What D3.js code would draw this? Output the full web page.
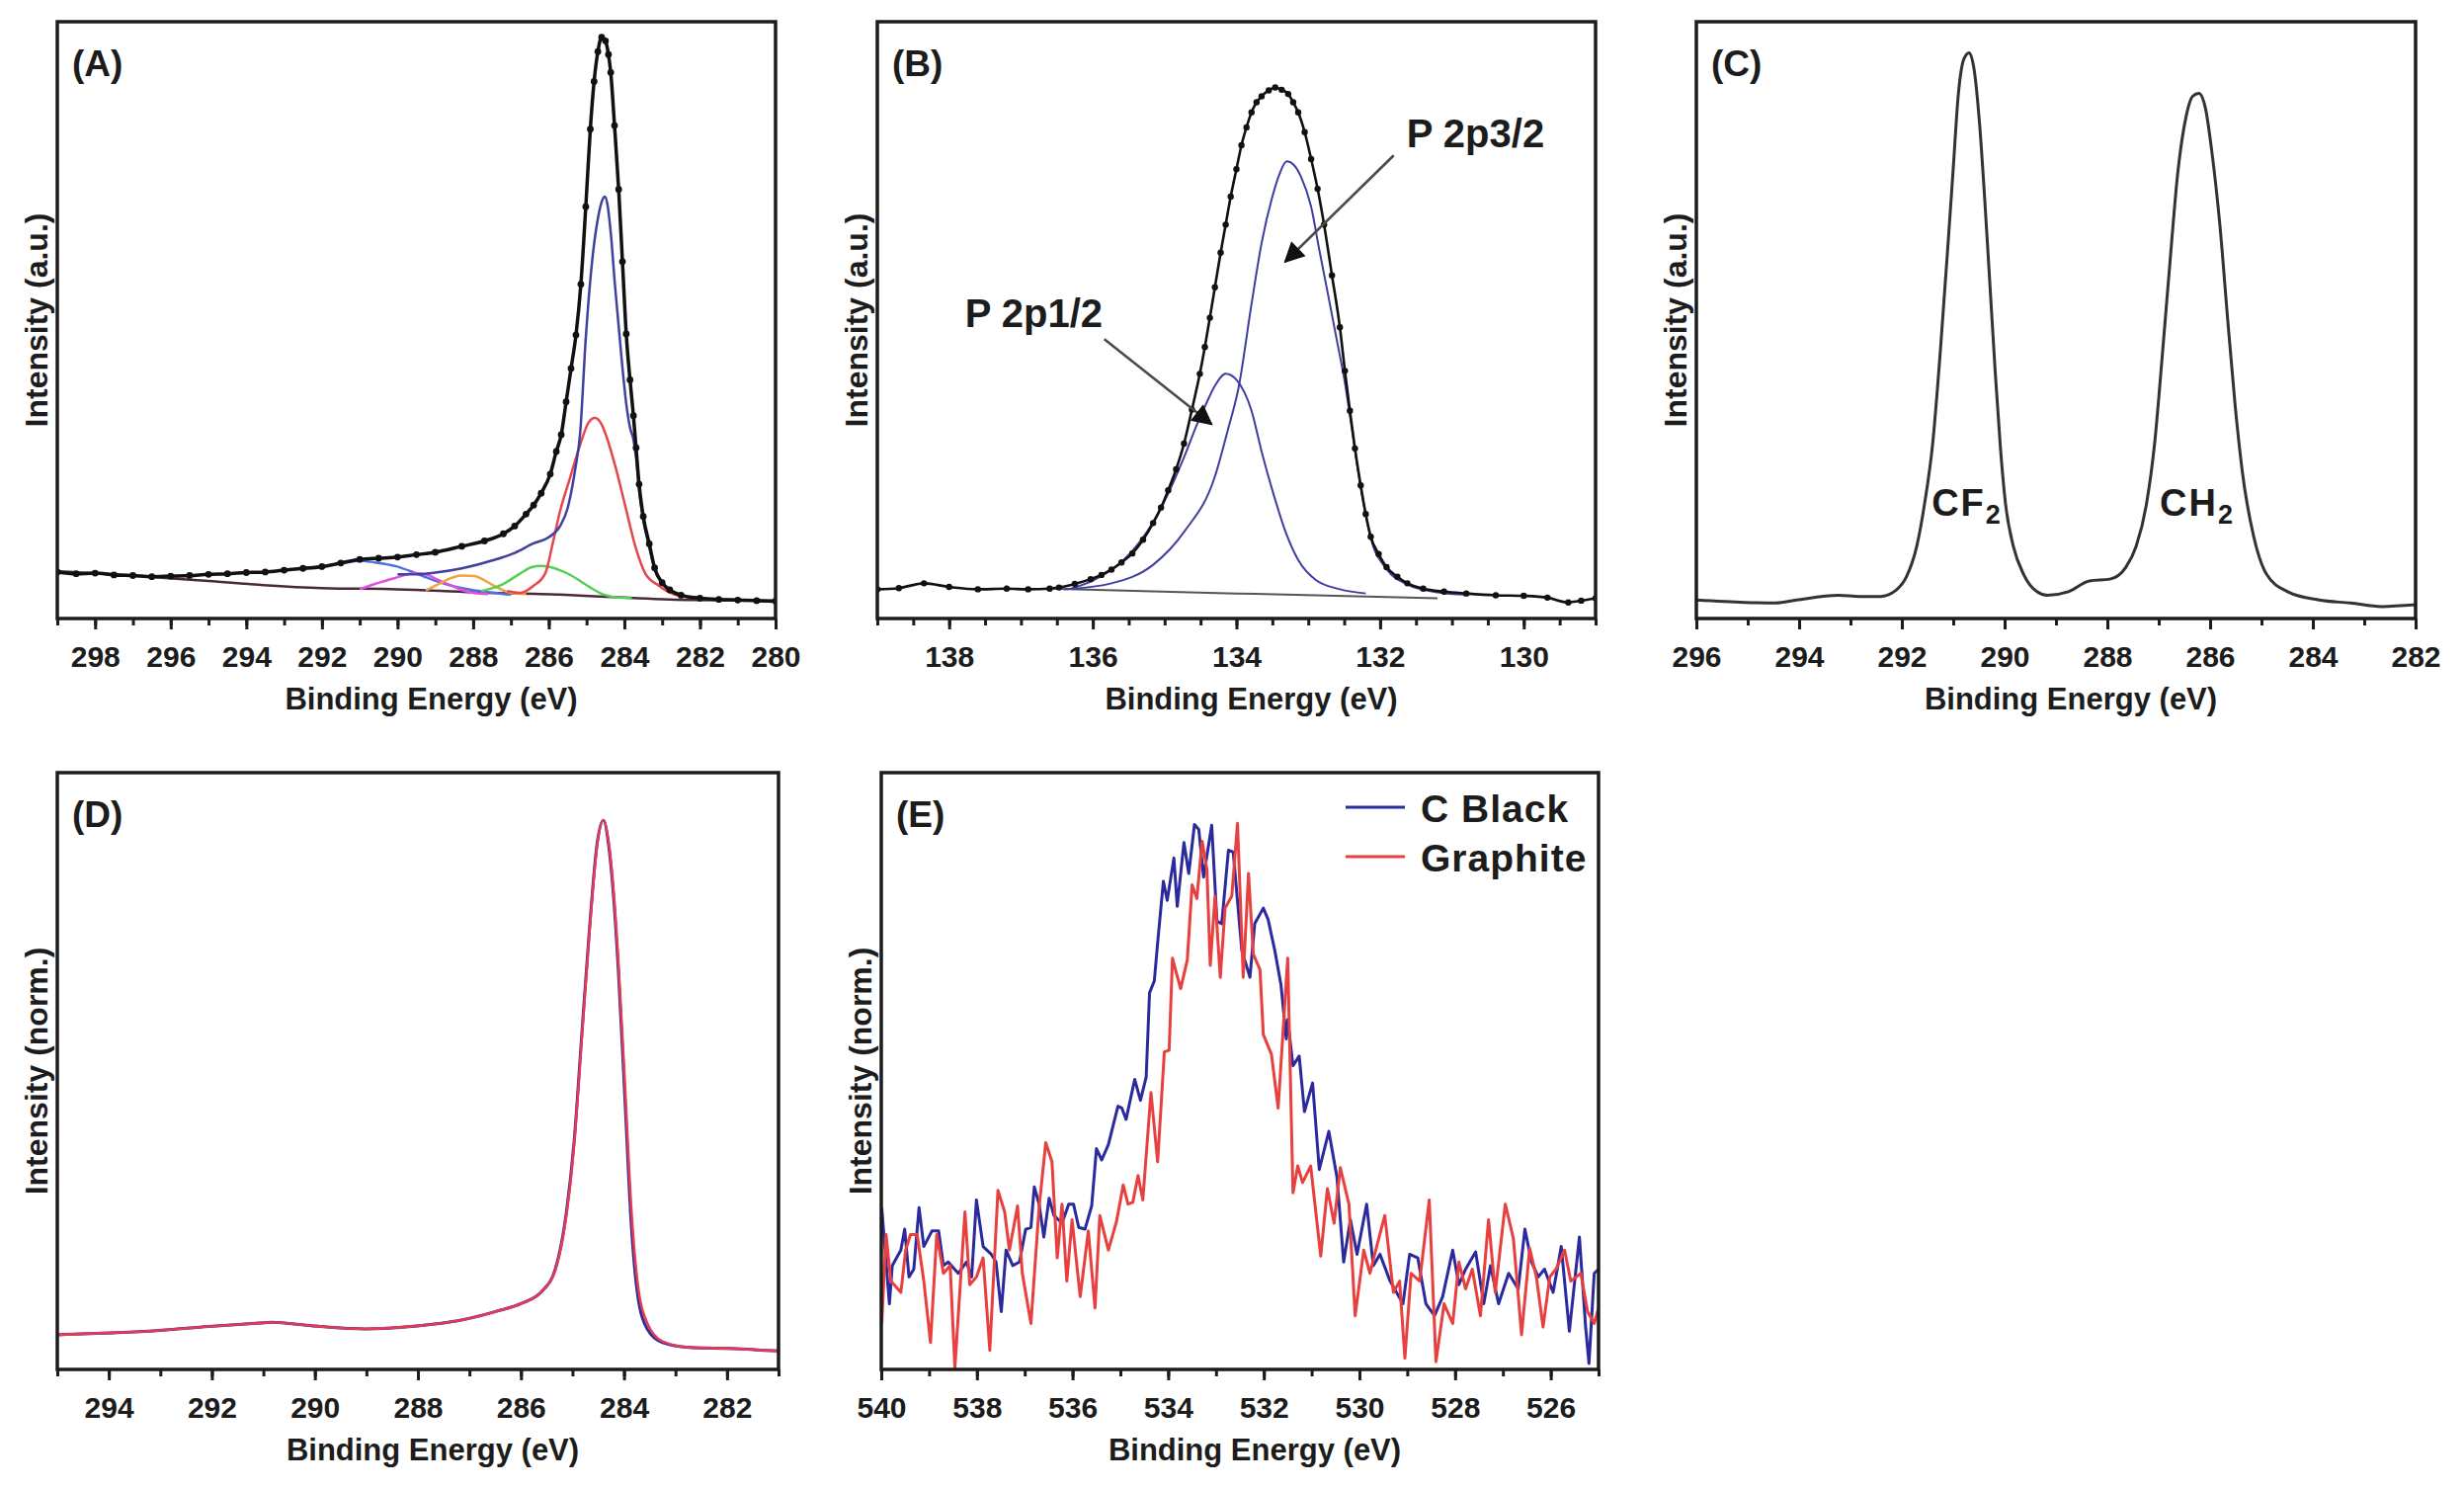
<!DOCTYPE html>
<html>
<head>
<meta charset="utf-8">
<script src="https://cdn.jsdelivr.net/npm/d3@7"></script>
<style>
  body { margin: 0; background: #fff; }
  text { font-family: "Liberation Sans", Arial, sans-serif; font-weight: bold; fill: #1c1c1c; }
</style>
</head>
<body>
<div id="chart"></div>
<script>
// ---- Panel A : C 1s fit (eV, intensity %) ----
var aEnvelope = [[299,7.8],[298.5,7.5],[298,7.6],[297.5,7.3],[297,7.2],[296.5,7.0],[296,7.1],[295.5,7.2],[295,7.4],
  [294.5,7.5],[294,7.7],[293.5,7.8],[293,8.1],[292.5,8.4],[292,8.7],[291.5,9.3],[291,9.9],[290.5,10.1],[290,10.3],
  [289.5,10.7],[289,11.1],[288.3,12.1],[287.7,13.0],[287.2,14.2],[286.9,15.5],[286.6,17.5],[286.4,19.0],[286.2,21.0],
  [285.96,24.2],[285.8,28],[285.67,30.8],[285.54,36.3],[285.41,41.9],[285.28,47.5],[285.15,56],[285.02,69],[284.9,82],
  [284.8,90],[284.7,95],[284.6,97.4],[284.5,96.8],[284.42,94.5],[284.36,91.5],[284.26,82.6],[284.15,71.9],[284.05,59.8],
  [283.95,47.7],[283.85,40],[283.76,34],[283.69,28.6],[283.61,22.5],[283.5,17.1],[283.34,12.5],[283.2,8.5],[283.0,6.0],
  [282.8,4.8],[282.5,3.9],[282,3.4],[281.5,3.2],[281,3.1],[280.5,3.0],[280,2.9]];
var aMain = [[290.0,7.4],[289.5,7.4],[289.0,7.7],[288.3,8.4],[287.45,9.8],[286.9,11.0],[286.4,12.6],[286.0,13.6],
  [285.7,15.5],[285.5,18.5],[285.3,25],[285.17,31],[285.02,47],[284.85,60],[284.7,67],[284.6,69.8],[284.52,70.7],
  [284.45,69.5],[284.35,64],[284.25,56],[284.15,49],[284.05,42],[283.95,36],[283.85,32],[283.76,30],[283.69,27],
  [283.61,21.5],[283.5,16.5],[283.34,12],[283.2,8.3],[283.0,5.9],[282.8,4.7],[282.5,3.9],[282,3.4],[281,3.1],[280,2.9]];
var aRed = [[287.1,4.6],[286.74,4.3],[286.4,5.5],[286.09,7.6],[285.88,13],[285.7,18],[285.43,23.7],[285.17,29.1],
  [284.95,32.8],[284.78,33.6],[284.6,32.5],[284.49,30.8],[284.23,25.3],[283.97,18.7],[283.71,12.1],[283.45,7.6],
  [283.09,5.5],[282.67,4.0],[282.2,3.5],[281.8,3.3]];
var aGreen = [[287.79,4.6],[287.26,5.6],[286.74,7.6],[286.45,8.6],[286.22,8.8],[285.95,8.6],[285.7,8.1],[285.4,7.2],
  [285.17,6.3],[284.9,5.2],[284.65,4.3],[284.13,3.5],[283.8,3.4]];
var aOrange = [[289.25,4.7],[288.9,5.8],[288.57,6.8],[288.3,7.2],[287.97,7.1],[287.7,6.4],[287.45,5.5],[287.0,4.3],[286.6,4.1]];
var aMagenta = [[291.0,4.9],[290.6,5.8],[290.06,6.8],[289.54,7.6],[289.2,7.3],[288.94,6.5],[288.6,5.6],[288.31,4.8],[288.0,4.3],[287.6,4.1]];
var aPi = [[292.5,8.3],[292,8.6],[291.5,9.2],[291.0,9.7],[290.6,9.4],[290.06,8.8],[289.6,7.8],[289.2,6.8],[288.8,5.9],
  [288.3,5.1],[287.45,4.3],[287.0,4.0]];
var aBase = [[299,7.9],[297,7.2],[296.15,6.8],[295,6.3],[293.54,5.6],[292,5.1],[290,4.9],[288,4.4],[285.7,4.0],[284,3.5],[282.2,3.1],[280,3.0]];

// ---- Panel B : P 2p fit ----
var bEnvelope = [[139,4.9],[138.7,5.1],[138.35,5.9],[138.0,5.3],[137.6,4.9],[137.2,5.0],[136.9,4.9],[136.6,5.0],
  [136.47,5.2],[136.25,5.8],[136.03,6.6],[135.88,7.3],[135.74,8.2],[135.6,9.4],[135.45,10.9],[135.3,13.2],[135.16,16],
  [135.05,18.6],[134.95,21.5],[134.84,25],[134.73,29.3],[134.62,35],[134.51,41],[134.44,45.5],[134.37,50.4],[134.3,55.5],
  [134.22,61.3],[134.15,66],[134.08,70.7],[134.0,75.3],[133.93,79.3],[133.86,82.3],[133.79,84.8],[133.72,86.5],
  [133.65,87.5],[133.55,88.5],[133.46,89],[133.37,88.6],[133.28,87.9],[133.21,86.5],[133.14,84.8],[133.05,81.5],
  [132.96,77],[132.87,72],[132.78,66],[132.67,57.5],[132.56,48.8],[132.49,41.5],[132.42,34.8],[132.35,28.5],
  [132.27,22.3],[132.2,17.5],[132.13,13.7],[132.02,10.8],[131.91,8.6],[131.76,7.0],[131.62,5.9],[131.4,5.0],
  [131.11,4.5],[130.8,4.2],[130.39,3.9],[130.0,3.8],[129.67,3.5],[129.38,2.7],[129.2,3.0],[129,3.4]];
var bP32 = [[136.4,4.9],[135.74,5.9],[135.16,9],[134.73,14.5],[134.3,23.8],[134.12,31.6],[133.97,38.7],[133.79,52.7],
  [133.65,62.9],[133.5,70.7],[133.4,74.5],[133.3,76.6],[133.2,76],[133.1,74],[132.96,69],[132.85,62],[132.72,54],
  [132.6,46.5],[132.49,39.5],[132.42,34],[132.27,22],[132.13,13.5],[131.91,8.3],[131.62,5.7],[131.2,4.4],[130.8,4.0]];
var bP12 = [[136.3,5.0],[135.96,6.6],[135.45,11.3],[135.09,17.6],[134.73,27],[134.55,32.5],[134.44,35.5],[134.3,39],
  [134.15,41],[134.0,40],[133.79,34.8],[133.65,28],[133.5,21.5],[133.3,14],[133.14,9.8],[132.9,6.5],[132.56,4.9],[132.2,4.2]];
var bBase = [[136.6,5.0],[134,4.2],[131.2,3.4]];

// ---- Panel C : PVDF C 1s ----
var cLine = [[296,3.1],[295.06,2.7],[294.45,2.6],[294.05,3.1],[293.23,3.9],[292.83,3.7],[292.42,3.7],[292.12,4.7],
  [291.91,7.0],[291.71,12.1],[291.56,19.1],[291.4,29.3],[291.25,44.9],[291.1,62.9],[291.0,75.4],[290.9,87.9],
  [290.79,93.8],[290.69,94.8],[290.59,91.8],[290.49,83.2],[290.39,70.7],[290.29,56.6],[290.18,41],[290.08,28.5],
  [289.98,19.1],[289.83,12.1],[289.63,7.4],[289.37,4.5],[289.17,3.9],[288.76,4.5],[288.35,6.3],[287.95,6.6],
  [287.64,8.6],[287.44,12.1],[287.24,19.1],[287.08,29.3],[286.93,44.1],[286.78,59.8],[286.63,74.6],[286.47,84],
  [286.34,87.5],[286.22,88],[286.09,85.5],[285.97,78.5],[285.81,66],[285.66,50.4],[285.51,35.5],[285.36,23.8],
  [285.15,13.7],[284.9,7.4],[284.49,4.5],[283.88,3.1],[283.27,2.6],[282.66,2.0],[282,2.3]];

// ---- Panel D : C 1s, normalised ----
var dGraphite = [[295,5.8],[294.09,6.1],[293.07,6.5],[292.06,7.2],[291.05,7.8],[290.85,7.9],[290.04,7.3],[289.02,6.8],
  [288.01,7.3],[287.2,8.2],[286.49,9.7],[285.98,11.1],[285.58,13.2],[285.33,16.7],[285.12,25.7],[284.97,37.4],
  [284.82,55.3],[284.67,73.2],[284.52,87.9],[284.4,92.0],[284.3,88.5],[284.2,80],[284.11,68.5],[283.98,47.5],
  [283.86,27.2],[283.74,14.8],[283.55,7.8],[283.25,4.7],[282.74,3.7],[281.93,3.5],[281,3.1]];
var dBlack = [[295,5.8],[294.09,6.1],[293.07,6.5],[292.06,7.2],[291.05,7.8],[290.85,7.9],[290.04,7.3],[289.02,6.8],
  [288.01,7.3],[287.2,8.2],[286.49,9.7],[285.98,11.1],[285.58,13.2],[285.33,16.9],[285.12,26.2],[284.97,38.0],
  [284.82,56.0],[284.67,73.8],[284.52,88.2],[284.4,92.0],[284.3,88.0],[284.2,79],[284.11,67.0],[283.98,45.0],
  [283.86,24.5],[283.74,12.8],[283.55,6.8],[283.25,4.5],[282.74,3.7],[281.93,3.5],[281,3.1]];

// ---- Panel E : O 1s, normalised ----
var eBlack = [[539.99,27.1],[539.83,11.0],[539.77,17.4],[539.59,20.0],[539.51,23.5],[539.42,15.5],[539.32,16.8],
  [539.21,27.1],[539.11,20.6],[538.94,23.2],[538.8,23.2],[538.7,17.4],[538.6,18.0],[538.39,16.1],[538.22,18.0],
  [538.11,15.5],[538.01,28.4],[537.87,20.6],[537.7,19.3],[537.6,18.0],[537.49,9.7],[537.39,20.0],[537.25,17.4],
  [537.11,18.0],[536.98,23.5],[536.87,23.8],[536.8,30.6],[536.7,27.7],[536.6,22.2],[536.49,28.7],[536.39,25.8],
  [536.22,24.5],[536.08,27.7],[535.98,27.7],[535.87,23.8],[535.74,23.5],[535.6,27.4],[535.5,37.0],[535.39,35.1],
  [535.25,37.7],[535.15,40.9],[535.05,44.1],[534.97,43.8],[534.88,41.9],[534.7,48.6],[534.58,45.1],[534.46,49.0],
  [534.39,63.1],[534.29,65.1],[534.22,71.5],[534.1,81.8],[534.02,78.6],[533.88,85.7],[533.81,77.6],[533.67,88.3],
  [533.57,83.1],[533.45,91.3],[533.36,90.5],[533.26,82.5],[533.09,91.2],[532.98,75.1],[532.88,74.7],[532.74,87.0],
  [532.64,86.7],[532.46,70.2],[532.29,65.7],[532.19,74.7],[532.01,77.3],[531.91,75.4],[531.77,70.2],[531.64,64.4],
  [531.53,55.4],[531.5,58.6],[531.39,50.9],[531.26,52.5],[531.15,43.2],[530.98,48.0],[530.84,33.5],[530.64,39.9],
  [530.47,32.2],[530.33,18.0],[530.19,25.1],[530.05,19.3],[529.85,27.7],[529.71,17.4],[529.57,19.3],[529.36,14.8],
  [529.09,11.0],[528.95,19.3],[528.78,18.7],[528.61,11.0],[528.43,9.0],[528.26,12.2],[528.05,20.0],[527.92,14.2],
  [527.78,16.8],[527.57,19.7],[527.4,11.0],[527.26,17.4],[527.09,11.0],[526.88,16.1],[526.68,13.5],[526.54,23.5],
  [526.4,18.0],[526.26,15.5],[526.13,16.8],[525.95,12.9],[525.78,20.6],[525.61,6.4],[525.4,22.2],[525.27,7.1],
  [525.2,1.0],[525.09,16.1],[525.0,16.8]];
var eGraphite = [[539.99,7.7],[539.9,22.6],[539.8,14.8],[539.59,12.9],[539.49,20.0],[539.39,22.6],[539.25,22.6],
  [539.11,14.8],[538.97,4.5],[538.84,22.6],[538.7,16.1],[538.56,17.4],[538.46,0.3],[538.25,26.4],[538.15,14.2],
  [538.01,15.5],[537.87,18.7],[537.73,3.2],[537.56,30.0],[537.42,26.4],[537.32,20.0],[537.15,27.4],[537.05,16.1],
  [536.87,7.7],[536.7,27.1],[536.56,38.0],[536.43,34.8],[536.32,18.7],[536.22,27.7],[536.12,14.8],[536.01,25.1],
  [535.84,12.2],[535.67,23.2],[535.53,10.3],[535.43,25.8],[535.25,20.0],[535.08,24.8],[534.94,30.9],[534.84,27.7],
  [534.74,28.0],[534.63,32.5],[534.53,28.4],[534.36,46.4],[534.22,34.8],[534.08,53.2],[533.98,53.5],[533.91,68.9],
  [533.74,63.8],[533.6,68.6],[533.5,81.2],[533.4,78.9],[533.29,88.5],[533.19,83.8],[533.12,67.7],[533.02,79.3],
  [532.91,65.7],[532.81,77.3],[532.67,79.3],[532.55,91.5],[532.43,65.7],[532.32,83.1],[532.22,69.6],[532.08,67.0],
  [532.01,56.1],[531.84,52.8],[531.7,43.8],[531.5,68.9],[531.39,29.6],[531.29,34.1],[531.19,31.3],[531.02,34.1],
  [530.81,19.0],[530.67,30.3],[530.53,24.5],[530.4,33.8],[530.22,27.7],[530.09,9.0],[529.91,20.0],[529.78,16.1],
  [529.64,20.6],[529.47,25.8],[529.29,12.9],[529.16,14.8],[529.05,1.9],[528.92,16.1],[528.74,14.8],[528.54,28.4],
  [528.4,1.3],[528.23,11.0],[528.05,7.7],[527.92,18.0],[527.78,13.5],[527.64,16.8],[527.47,9.0],[527.3,25.1],
  [527.16,12.9],[526.95,27.7],[526.78,21.9],[526.61,5.8],[526.44,20.3],[526.3,15.5],[526.16,7.1],[526.02,15.5],
  [525.89,16.8],[525.71,20.0],[525.58,14.8],[525.37,16.1],[525.23,9.7],[525.09,7.7],[525.0,10.3]];

// ---- tick labels & text ----
var aTicks = [298,296,294,292,290,288,286,284,282,280];
var bTicks = [138,136,134,132,130];
var cTicks = [296,294,292,290,288,286,284,282];
var dTicks = [294,292,290,288,286,284,282];
var eTicks = [540,538,536,534,532,530,528,526];
var legendNames = ["C Black", "Graphite"];

var W = 2494, H = 1506;
var svg = d3.select("#chart").append("svg")
    .attr("width", W)
    .attr("height", H);

var defs = svg.append("defs");
defs.append("marker")
    .attr("id", "head")
    .attr("viewBox", "0 0 10 10")
    .attr("refX", 9).attr("refY", 5)
    .attr("markerWidth", 9).attr("markerHeight", 8)
    .attr("markerUnits", "strokeWidth")
    .attr("orient", "auto")
  .append("path")
    .attr("d", "M0,0L10,5L0,10Z")
    .attr("fill", "#111");

var panelCount = 0;

function drawPanel(p) {
  var x = d3.scaleLinear().domain(p.xDomain).range([p.left, p.left + p.width]);
  var y = d3.scaleLinear().domain([0, 100]).range([p.top + p.height, p.top]);
  var g = svg.append("g");
  var clipId = "clip" + (panelCount++);

  defs.append("clipPath").attr("id", clipId)
    .append("rect")
      .attr("x", p.left).attr("y", p.top)
      .attr("width", p.width).attr("height", p.height);

  var line = d3.line()
      .x(function(d) { return x(d[0]); })
      .y(function(d) { return y(d[1]); });

  var plot = g.append("g").attr("clip-path", "url(#" + clipId + ")");

  p.series.forEach(function(s) {
    plot.append("path")
        .datum(s.data)
        .attr("d", line.curve(s.smooth ? d3.curveMonotoneX : d3.curveLinear))
        .attr("fill", "none")
        .attr("stroke", s.color)
        .attr("stroke-width", s.width)
        .attr("stroke-linejoin", "round");
    if (s.dots) {
      plot.selectAll(null)
          .data(s.data)
        .enter().append("circle")
          .attr("cx", function(d) { return x(d[0]); })
          .attr("cy", function(d) { return y(d[1]); })
          .attr("r", s.dots)
          .attr("fill", s.color);
    }
  });

  // frame
  g.append("rect")
      .attr("x", p.left).attr("y", p.top)
      .attr("width", p.width).attr("height", p.height)
      .attr("fill", "none")
      .attr("stroke", "#1c1c1c")
      .attr("stroke-width", 3.5);

  // minor ticks
  var lo = Math.min(p.xDomain[0], p.xDomain[1]), hi = Math.max(p.xDomain[0], p.xDomain[1]);
  var minor = d3.range(lo, hi + 1e-6, p.minorStep);
  var minorAxis = g.append("g")
      .attr("transform", "translate(0," + (p.top + p.height) + ")")
      .call(d3.axisBottom(x).tickValues(minor).tickSize(7).tickFormat(""));
  minorAxis.select(".domain").remove();
  minorAxis.selectAll("line").attr("stroke", "#1c1c1c").attr("stroke-width", 3);

  // major ticks and labels
  var majorAxis = g.append("g")
      .attr("transform", "translate(0," + (p.top + p.height) + ")")
      .call(d3.axisBottom(x).tickValues(p.ticks).tickSize(11).tickPadding(17).tickFormat(d3.format("d")));
  majorAxis.select(".domain").remove();
  majorAxis.selectAll("line").attr("stroke", "#1c1c1c").attr("stroke-width", 3);
  majorAxis.selectAll("text")
      .attr("fill", "#1c1c1c")
      .style("font-family", "'Liberation Sans', Arial, sans-serif")
      .style("font-weight", "bold")
      .style("font-size", "30px");

  // axis titles
  g.append("text")
      .attr("x", p.left + p.width / 2 + 15)
      .attr("y", p.top + p.height + 92)
      .attr("text-anchor", "middle")
      .style("font-size", "31px")
      .text("Binding Energy (eV)");

  g.append("text")
      .attr("transform", "translate(" + (p.left - 22) + "," + (p.top + p.height / 2) + ") rotate(-90)")
      .attr("text-anchor", "middle")
      .attr("dy", "0.36em")
      .style("font-size", "32px")
      .text(p.yLabel);

  // panel letter
  g.append("text")
      .attr("x", p.left + 15)
      .attr("y", p.top + 55)
      .style("font-size", "37px")
      .text(p.letter);

  if (p.extra) p.extra(g, x, y);
}

var rowTop1 = 22, rowTop2 = 782, panelW = 727, panelH = 604;

drawPanel({
  letter: "(A)", left: 58, top: rowTop1, width: panelW, height: panelH,
  xDomain: [299, 280], ticks: aTicks, minorStep: 1, yLabel: "Intensity (a.u.)",
  series: [
    {data: aBase, color: "#4a2a3a", width: 2.5, smooth: true},
    {data: aPi, color: "#4d6fe0", width: 2.5, smooth: true},
    {data: aMagenta, color: "#e24fe2", width: 2.5, smooth: true},
    {data: aOrange, color: "#f0a23c", width: 2.5, smooth: true},
    {data: aGreen, color: "#55d055", width: 2.5, smooth: true},
    {data: aRed, color: "#e4474c", width: 2.5, smooth: true},
    {data: aMain, color: "#40409e", width: 2.5, smooth: true},
    {data: aEnvelope, color: "#111", width: 3.5, smooth: true, dots: 3.4}
  ]
});

drawPanel({
  letter: "(B)", left: 888, top: rowTop1, width: panelW, height: panelH,
  xDomain: [139, 129], ticks: bTicks, minorStep: 0.5, yLabel: "Intensity (a.u.)",
  series: [
    {data: bBase, color: "#555", width: 2, smooth: true},
    {data: bP12, color: "#3e3ea0", width: 2, smooth: true},
    {data: bP32, color: "#3e3ea0", width: 2, smooth: true},
    {data: bEnvelope, color: "#111", width: 2.6, smooth: true, dots: 3.2}
  ],
  extra: function(g, x, y) {
    var notes = [
      {label: "P 2p3/2", text: [131.63, 79.0], from: [131.81, 77.6], to: [133.32, 59.8]},
      {label: "P 2p1/2", text: [137.78, 48.8], from: [135.84, 46.8], to: [134.35, 32.6]}
    ];
    notes.forEach(function(n) {
      g.append("line")
          .attr("x1", x(n.from[0])).attr("y1", y(n.from[1]))
          .attr("x2", x(n.to[0])).attr("y2", y(n.to[1]))
          .attr("stroke", "#4a4a4a")
          .attr("stroke-width", 2.6)
          .attr("marker-end", "url(#head)");
      g.append("text")
          .attr("x", x(n.text[0])).attr("y", y(n.text[1]))
          .style("font-size", "40px")
          .text(n.label);
    });
  }
});

drawPanel({
  letter: "(C)", left: 1717, top: rowTop1, width: panelW + 1, height: panelH,
  xDomain: [296, 282], ticks: cTicks, minorStep: 1, yLabel: "Intensity (a.u.)",
  series: [
    {data: cLine, color: "#333", width: 3, smooth: true}
  ],
  extra: function(g, x, y) {
    [["CF", 291.42], ["CH", 286.98]].forEach(function(l) {
      var t = g.append("text")
          .attr("x", x(l[1])).attr("y", y(17.2))
          .style("font-size", "38px")
          .style("letter-spacing", "2px");
      t.append("tspan").text(l[0]);
      t.append("tspan").attr("dy", 8).style("font-size", "27px").text("2");
    });
  }
});

drawPanel({
  letter: "(D)", left: 58, top: rowTop2, width: 730, height: panelH,
  xDomain: [295, 281], ticks: dTicks, minorStep: 1, yLabel: "Intensity (norm.)",
  series: [
    {data: dBlack, color: "#2e2e9a", width: 3, smooth: true},
    {data: dGraphite, color: "#e33a55", width: 2.6, smooth: true}
  ]
});

drawPanel({
  letter: "(E)", left: 892, top: rowTop2, width: 726, height: panelH,
  xDomain: [540, 525], ticks: eTicks, minorStep: 1, yLabel: "Intensity (norm.)",
  series: [
    {data: eBlack, color: "#2a2a9e", width: 3, smooth: false},
    {data: eGraphite, color: "#e8403f", width: 3, smooth: false}
  ],
  extra: function(g, x, y) {
    var colors = ["#2a2a9e", "#e8403f"];
    var leg = g.append("g").attr("transform", "translate(" + (892 + 470) + "," + (782 + 35) + ")");
    legendNames.forEach(function(name, i) {
      leg.append("line")
          .attr("x1", 0).attr("x2", 60)
          .attr("y1", i * 50).attr("y2", i * 50)
          .attr("stroke", colors[i]).attr("stroke-width", 3);
      leg.append("text")
          .attr("x", 76).attr("y", i * 50 + 15)
          .style("font-size", "39px")
          .style("letter-spacing", "1px")
          .text(name);
    });
  }
});
</script>
</body>
</html>
